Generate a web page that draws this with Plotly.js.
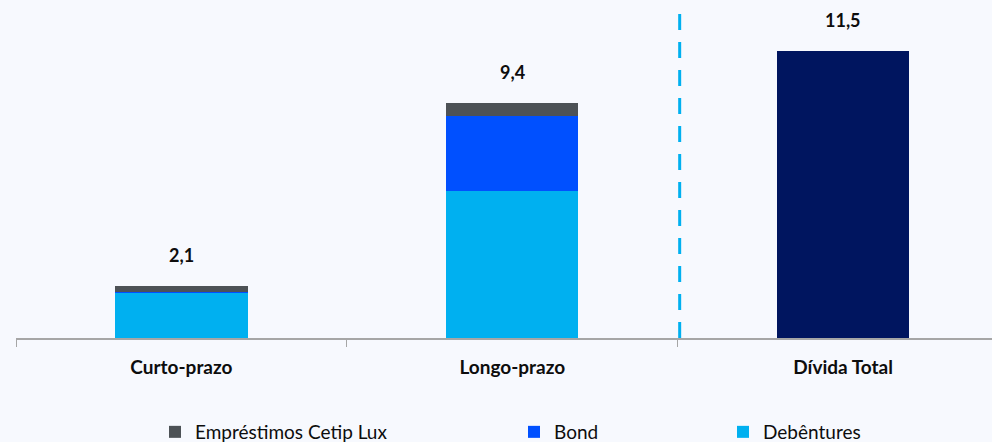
<!DOCTYPE html>
<html>
<head>
<meta charset="utf-8">
<script src="https://cdn.plot.ly/plotly-3.0.1.min.js"></script>
<style>html,body{margin:0;padding:0;background:#f7f9fe;}#chart{width:992px;height:442px;}</style>
</head>
<body>
<div id="chart"></div>
<script>
const categories = ['Curto-prazo', 'Longo-prazo', 'Dívida Total'];
const debentures = [1.8, 5.9, null];
const bond = [0.05, 3.0, null];
const emprestimos = [0.25, 0.5, null];
const dividaTotal = [null, null, 11.5];
const totals = [2.1, 9.4, 11.5];
const seriesNames = ['Empréstimos Cetip Lux', 'Bond', 'Debêntures'];

const FONT = 'Lato, "Open Sans", sans-serif';
const colors = {emp: '#4d5256', bond: '#0050ff', deb: '#00b0f0', total: '#00155f'};

const traces = [
  {type: 'bar', name: seriesNames[2], x: categories, y: debentures, marker: {color: colors.deb}, legend: 'legend3', hoverinfo: 'skip'},
  {type: 'bar', name: seriesNames[1], x: categories, y: bond, marker: {color: colors.bond}, legend: 'legend2', hoverinfo: 'skip'},
  {type: 'bar', name: seriesNames[0], x: categories, y: emprestimos, marker: {color: colors.emp}, legend: 'legend', hoverinfo: 'skip'},
  {type: 'bar', name: 'Dívida Total', x: categories, y: dividaTotal, marker: {color: colors.total}, showlegend: false, hoverinfo: 'skip'}
];

const annotations = categories.map((c, i) => ({
  x: c, y: totals[i], xref: 'x', yref: 'y',
  text: totals[i].toFixed(1).replace('.', ','),
  showarrow: false, yanchor: 'middle', yshift: 31,
  font: {family: FONT, size: 18, color: '#0d0d0d', weight: 'bold'}
}));

function legendAt(px) {
  return {orientation: 'h', xref: 'container', yref: 'container', x: px / 992, y: 1 - 432 / 442,
    xanchor: 'left', yanchor: 'middle', bgcolor: 'rgba(0,0,0,0)',
    font: {family: FONT, size: 19, color: '#0d0d0d'}};
}

const layout = {
  width: 992, height: 442,
  paper_bgcolor: '#f7f9fe', plot_bgcolor: '#f7f9fe',
  margin: {l: 16, r: 0, t: 0, b: 104},
  barmode: 'stack', bargap: 0.6,
  showlegend: true,
  legend: legendAt(172 - 17),
  legend2: legendAt(531 - 17),
  legend3: legendAt(740 - 17),
  xaxis: {
    type: 'category', range: [-0.5, 2.45], tickson: 'boundaries',
    ticks: 'outside', ticklen: 7, tickcolor: '#a6a6a6', tickwidth: 1,
    showline: true, linecolor: '#a6a6a6', linewidth: 2,
    showgrid: false, zeroline: false, fixedrange: true,
    ticklabelstandoff: 11,
    tickfont: {family: FONT, size: 19, color: '#0d0d0d', weight: 'bold'}
  },
  yaxis: {range: [0, 13.52], visible: false, showgrid: false, zeroline: false, fixedrange: true},
  shapes: [{
    type: 'line', xref: 'x', yref: 'y', x0: 1.506, x1: 1.506, y0: 0, y1: 13,
    line: {color: '#00b0f0', width: 3, dash: '16px,12px'}
  }],
  annotations: annotations
};

Plotly.newPlot('chart', traces, layout, {displayModeBar: false, staticPlot: true});
</script>
</body>
</html>
